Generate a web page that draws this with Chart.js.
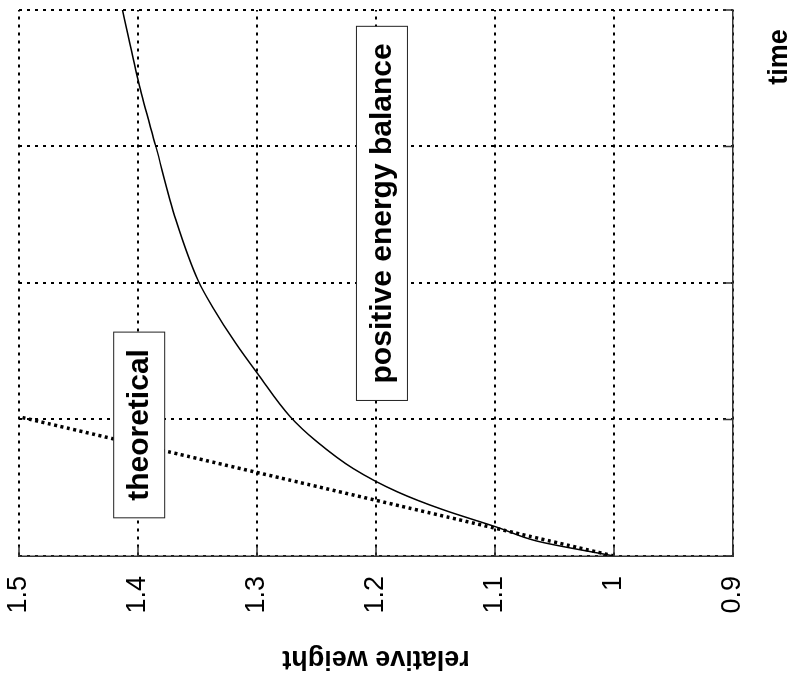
<!DOCTYPE html>
<html>
<head>
<meta charset="utf-8">
<script src="https://cdn.jsdelivr.net/npm/chart.js@4.4.1/dist/chart.umd.min.js"></script>
<style>
  html, body { margin: 0; padding: 0; background: #fff; }
  #wrap { position: relative; width: 799px; height: 675px; overflow: hidden; }
  /* the figure is drawn upright and then turned a quarter turn anticlockwise, like the scanned page */
  #plot { position: absolute; left: 0; top: 0; transform-origin: 0 0; transform: translate(0, 675px) rotate(-90deg); }
</style>
</head>
<body>
<div id="wrap"><canvas id="plot" width="675" height="799"></canvas></div>
<script>
const timeTicks = [0, 1, 2, 3, 4];
const weightTicks = [0.9, 1, 1.1, 1.2, 1.3, 1.4, 1.5];
const weightTickLabels = ['0.9', '1', '1.1', '1.2', '1.3', '1.4', '1.5'];

// positive energy balance curve
const balanceTime = [0, 0.11, 0.21, 0.34, 0.47, 0.64, 0.84, 1.02, 1.33, 1.56, 1.82, 2.01, 2.46, 3.0, 3.45, 4.0];
const balanceWeight = [1.0, 1.065, 1.098, 1.144, 1.182, 1.219, 1.25, 1.272, 1.299, 1.318, 1.337, 1.349, 1.368, 1.385, 1.399, 1.413];

// theoretical straight line
const theoryTime = [0, 1.02];
const theoryWeight = [1.0, 1.5];

// boxed text labels inside the plot
const labelText = ['theoretical', 'positive energy balance'];
const labelTime = [0.96, 2.51];
const labelWeight = [1.399, 1.195];

const FONT = '"Liberation Sans", Arial, Helvetica, sans-serif';

const annotate = {
  id: 'annotate',
  afterDatasetsDraw(chart) {
    const { ctx, chartArea } = chart;
    const x = chart.scales.x, y = chart.scales.y;
    ctx.save();

    // matlab style tick marks, pointing into the plot
    ctx.strokeStyle = '#333';
    ctx.lineWidth = 1.5;
    ctx.beginPath();
    x.ticks.forEach(t => {
      const px = x.getPixelForValue(t.value);
      ctx.moveTo(px, chartArea.bottom);
      ctx.lineTo(px, chartArea.bottom - 10);
    });
    y.ticks.forEach(t => {
      const py = y.getPixelForValue(t.value);
      ctx.moveTo(chartArea.left, py);
      ctx.lineTo(chartArea.left + 10, py);
    });
    ctx.stroke();

    ctx.font = 'bold 30px ' + FONT;
    ctx.textAlign = 'center';
    ctx.textBaseline = 'middle';
    labelText.forEach((txt, i) => {
      const cx = x.getPixelForValue(labelTime[i]);
      const cy = y.getPixelForValue(labelWeight[i]);
      const w = ctx.measureText(txt).width + 34, h = 51;
      ctx.fillStyle = '#fff';
      ctx.fillRect(cx - w / 2, cy - h / 2, w, h);
      ctx.strokeStyle = '#222';
      ctx.lineWidth = 1;
      ctx.strokeRect(cx - w / 2, cy - h / 2, w, h);
      ctx.fillStyle = '#000';
      ctx.fillText(txt, cx, cy + 1);
    });

    // time axis name sits toward the end of the axis
    ctx.font = 'bold 27px ' + FONT;
    ctx.fillText('time', chartArea.right - 47, chartArea.bottom + 47);
    ctx.restore();
  }
};

new Chart(document.getElementById('plot'), {
  type: 'line',
  data: {
    datasets: [
      {
        label: 'positive energy balance',
        data: balanceTime.map((t, i) => ({ x: t, y: balanceWeight[i] })),
        borderColor: '#000',
        borderWidth: 1.5,
        pointRadius: 0,
        cubicInterpolationMode: 'monotone',
        fill: false,
      },
      {
        label: 'theoretical',
        data: theoryTime.map((t, i) => ({ x: t, y: theoryWeight[i] })),
        borderColor: '#000',
        borderWidth: 3.5,
        borderDash: [3, 3.5],
        pointRadius: 0,
        fill: false,
      }
    ]
  },
  options: {
    responsive: false,
    animation: false,
    devicePixelRatio: 1,
    layout: { padding: { top: 19, right: 10, left: 0, bottom: 0 } },
    plugins: { legend: { display: false }, tooltip: { enabled: false } },
    scales: {
      x: {
        type: 'linear',
        min: 0,
        max: 4,
        afterBuildTicks: s => { s.ticks = timeTicks.map(v => ({ value: v })); },
        afterFit: s => { s.height = 66; s.paddingLeft = 0; s.paddingRight = 0; },
        ticks: { display: false },
        grid: { color: '#000', lineWidth: 2, drawTicks: false },
        border: { color: '#333', width: 1.5, dash: [3, 5] },
      },
      y: {
        type: 'linear',
        min: 0.9,
        max: 1.5,
        afterBuildTicks: s => { s.ticks = weightTicks.map(v => ({ value: v })); },
        afterFit: s => { s.width = 119; s.paddingTop = 0; s.paddingBottom = 0; },
        ticks: {
          padding: 20,
          color: '#000',
          font: { family: FONT, size: 27 },
          callback: (v, i) => weightTickLabels[i],
        },
        grid: { color: '#000', lineWidth: 2, drawTicks: false },
        border: { color: '#333', width: 1.5, dash: [3, 5] },
        title: {
          display: true,
          text: 'relative weight',
          color: '#000',
          font: { family: FONT, size: 27, weight: 'bold' },
          padding: 0,
        },
      }
    }
  },
  plugins: [annotate]
});
</script>
</body>
</html>
